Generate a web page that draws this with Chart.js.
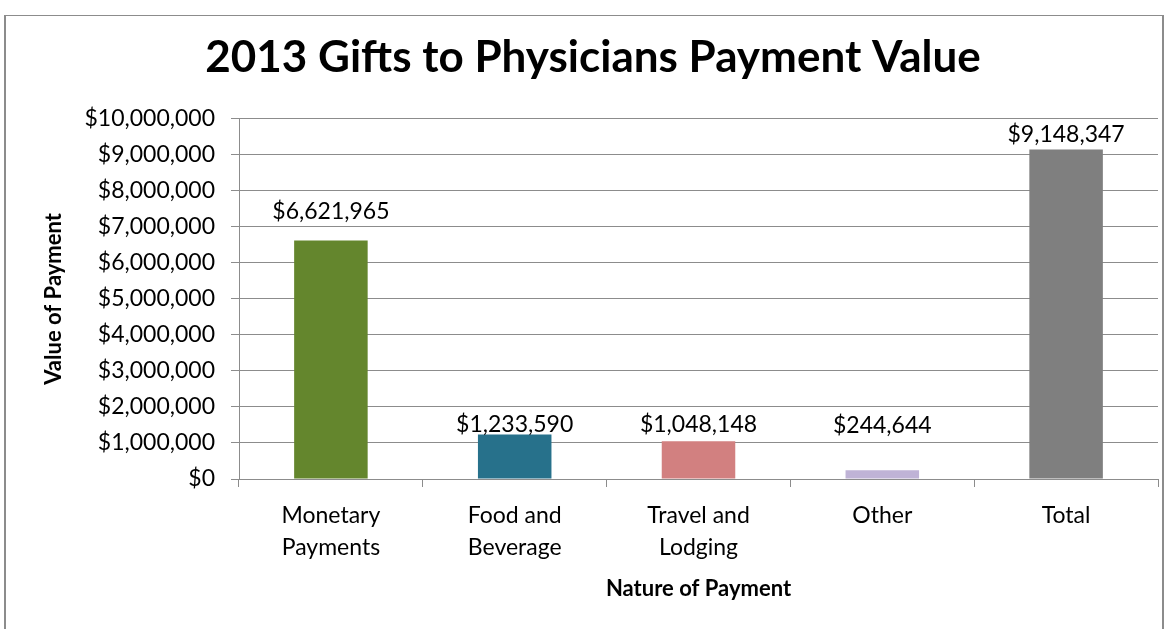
<!DOCTYPE html>
<html>
<head>
<meta charset="utf-8">
<script src="https://cdn.jsdelivr.net/npm/chart.js@4.4.1/dist/chart.umd.min.js"></script>
<style>
  html, body { margin: 0; padding: 0; background: #fff; }
  #wrap { position: relative; width: 1174px; height: 629px; overflow: hidden; }
  #frame { position: absolute; left: 4px; top: 15px; width: 1156px; height: 700px; border: 1px solid #8c8c8c; border-width: 1px 2px 1px 2px; }
  #chart { position: absolute; left: 0; top: 0; }
</style>
</head>
<body>
<div id="wrap">
  <div id="frame"></div>
  <canvas id="chart" width="1174" height="629"></canvas>
</div>
<script>
// chart data
const categories = [['Monetary', 'Payments'], ['Food and', 'Beverage'], ['Travel and', 'Lodging'], 'Other', 'Total'];
const paymentValues = [6621965, 1233590, 1048148, 244644, 9148347];
const barColors = ['#64862d', '#27718b', '#d28080', '#bfb3d6', '#7f7f7f'];

const yMin = 0;
const yMax = 10000000;
const yStep = 1000000;

const chartTitle = '2013 Gifts to Physicians Payment Value';
const xTitle = 'Nature of Payment';
const yTitle = 'Value of Payment';

const fontFamily = 'Lato, "Open Sans", sans-serif';

// how far each value label sits above its bar (labels were nudged by hand in the original)
const labelLift = [21, 3, 9, 37, 7];

const money = (v) => '$' + Number(v).toLocaleString('en-US');

// labels above each bar
const barValueLabels = {
    id: 'barValueLabels',
    afterDatasetsDraw(chart) {
        const ctx = chart.ctx;
        const meta = chart.getDatasetMeta(0);
        ctx.save();
        ctx.font = '23px ' + fontFamily;
        ctx.fillStyle = '#000';
        ctx.textAlign = 'center';
        ctx.textBaseline = 'alphabetic';
        meta.data.forEach((bar, i) => {
            ctx.fillText(money(chart.data.datasets[0].data[i]), bar.x, bar.y - labelLift[i]);
        });
        ctx.restore();
    }
};

const ctx = document.getElementById('chart').getContext('2d');
const chart = new Chart(ctx, {
    type: 'bar',
    data: {
        labels: categories,
        datasets: [{
            data: paymentValues,
            backgroundColor: barColors,
            borderWidth: 0,
            barPercentage: 0.4,
            categoryPercentage: 1.0
        }]
    },
    options: {
        responsive: false,
        animation: false,
        layout: { padding: { left: 28, right: 16, top: 0, bottom: 0 } },
        plugins: {
            legend: { display: false },
            tooltip: { enabled: false },
            title: {
                display: true,
                text: chartTitle,
                color: '#000',
                font: { family: fontFamily, size: 44, weight: 'bold', lineHeight: 1.2 },
                padding: { top: 31, bottom: 35 }
            }
        },
        scales: {
            x: {
                offset: true,
                grid: { display: true, drawOnChartArea: false, drawTicks: true, tickLength: 8, color: '#8c8c8c', offset: true },
                border: { display: true, color: '#8c8c8c', width: 1 },
                ticks: {
                    color: '#000',
                    font: { family: fontFamily, size: 23, lineHeight: 1.4 },
                    padding: 12, maxRotation: 0, autoSkip: false
                },
                title: {
                    display: true, text: xTitle, color: '#000',
                    font: { family: fontFamily, size: 22, weight: 'bold', lineHeight: 1.2 },
                    padding: { top: 0, bottom: 27 }
                },
                afterFit: (s) => { s.height = 150; }
            },
            y: {
                min: yMin,
                max: yMax,
                grid: { color: '#8c8c8c', lineWidth: 1, tickLength: 8, drawTicks: true },
                border: { display: true, color: '#8c8c8c', width: 1 },
                ticks: {
                    stepSize: yStep,
                    color: '#000',
                    font: { family: fontFamily, size: 23 },
                    padding: 16,
                    callback: (v) => money(v)
                },
                title: {
                    display: true, text: yTitle, color: '#000',
                    font: { family: fontFamily, size: 22, weight: 'bold', lineHeight: 1.2 },
                    padding: { top: 13, bottom: 0 }
                },
                afterFit: (s) => { s.width = 211; }
            }
        }
    },
    plugins: [barValueLabels]
});
</script>
</body>
</html>
